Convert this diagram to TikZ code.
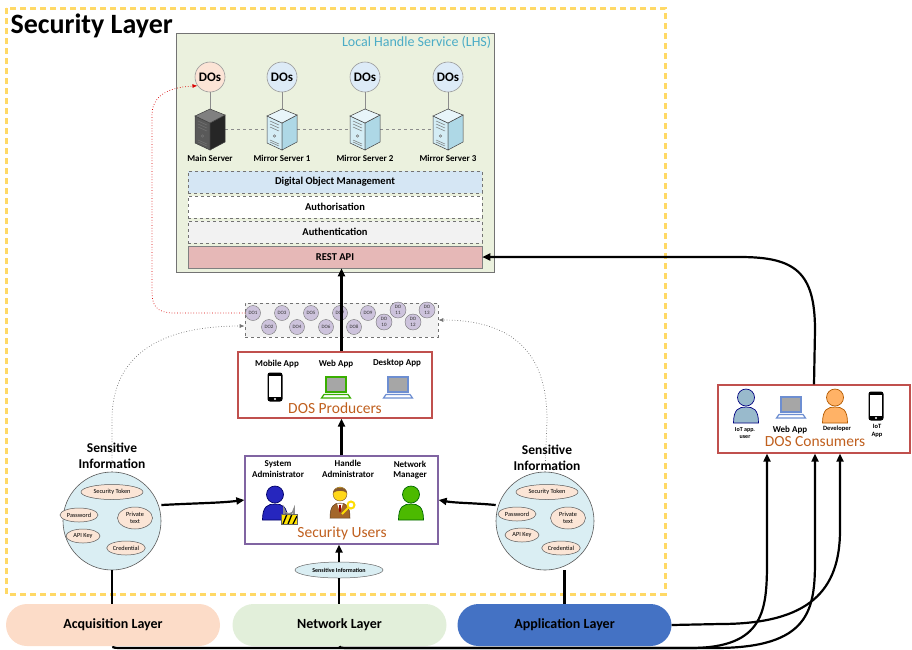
\documentclass[tikz,border=0pt]{standalone}
\usepackage{fontspec}
\setmainfont{Carlito}
\usetikzlibrary{arrows.meta,shapes.geometric,calc}

\definecolor{secyellow}{HTML}{FFD966}
\definecolor{lhsfill}{HTML}{EBF1DE}
\definecolor{lhstitle}{HTML}{4BACC6}
\definecolor{dosmain}{HTML}{FCE4D6}
\definecolor{dosmirror}{HTML}{DDEBF7}
\definecolor{domfill}{HTML}{D5E6F4}
\definecolor{authfill}{HTML}{F2F2F2}
\definecolor{restfill}{HTML}{E6B8B7}
\definecolor{dofill}{HTML}{CDC3DC}
\definecolor{stripfill}{HTML}{F2F2F2}
\definecolor{prodred}{HTML}{C0504D}
\definecolor{brownlabel}{HTML}{C0601F}
\definecolor{userpurple}{HTML}{8064A2}
\definecolor{sensfill}{HTML}{DAEEF3}
\definecolor{itemfill}{HTML}{FBE5D6}
\definecolor{acqfill}{HTML}{FCDCC8}
\definecolor{netfill}{HTML}{E2EFDA}
\definecolor{appfill}{HTML}{4472C4}
\definecolor{srvfront}{HTML}{D4EDF5}
\definecolor{srvside}{HTML}{AED8E6}
\definecolor{srvtop}{HTML}{E8F5FA}

\newcommand\fs[2]{\fontsize{#1}{#2}\selectfont}

\tikzset{
  dosnode/.style={circle, draw=black!40, line width=0.6pt, minimum size=30pt, inner sep=0pt, font=\fs{13}{15}\bfseries},
  srvlabel/.style={font=\fs{9}{10.5}\bfseries},
  layerbox/.style={draw=black!55, dashed, line width=0.5pt, minimum width=294pt, minimum height=22pt, inner sep=0pt, font=\fs{10.5}{12}\bfseries},
  docirc/.style={circle, draw=black!55, line width=0.4pt, fill=dofill, minimum size=15pt, inner sep=0pt, font=\fs{5}{5.5}, text=black!80, align=center},
  arr/.style={-{Triangle[length=8pt,width=7pt]}, line width=2.2pt},
  plainline/.style={line width=2.2pt},
  greydot/.style={dotted, draw=black!55, line width=0.7pt, -{Latex[length=5pt,width=4pt]}},
  reddot/.style={dotted, draw=red!85!black, line width=0.7pt, -{Latex[length=5pt,width=4pt]}},
  applabel/.style={font=\fs{9}{10.5}\bfseries, align=center},
  tinylabel/.style={font=\fs{6.5}{7.5}\bfseries, align=center},
  brown/.style={font=\fs{15.5}{17}, text=brownlabel},
  senscirc/.style={circle, draw=black!65, line width=0.6pt, fill=sensfill, minimum size=98pt, inner sep=0pt},
  sensitem/.style={ellipse, draw=black!65, line width=0.5pt, fill=itemfill, inner sep=0.5pt, font=\fs{6.3}{6.8}, align=center},
  senslabel/.style={font=\fs{13.5}{15.5}\bfseries, align=center},
  layerpill/.style={rounded corners=21pt, minimum width=214pt, minimum height=42pt, inner sep=0pt, font=\fs{14}{16}\bfseries},
  pics/server/.style n args={3}{code={
    \filldraw[fill=#1,draw=black!75,line width=0.5pt] (-15,-13) -- (0,-6) -- (0,21) -- (-15,14) -- cycle;
    \filldraw[fill=#2,draw=black!75,line width=0.5pt] (0,-6) -- (15,-14) -- (15,13) -- (0,21) -- cycle;
    \filldraw[fill=#3,draw=black!75,line width=0.5pt] (-15,-13) -- (0,-20) -- (15,-14) -- (0,-6) -- cycle;
    \draw[black!55,line width=0.5pt] (-12,-8) -- (-3,-4) (-12,-5) -- (-3,-1) (-12,-2) -- (-3,2);
    \draw[black!55,line width=0.5pt] (-7.5,7) circle[radius=1.3];
    \draw[black!55,line width=0.5pt] (-12,11) -- (-3,15) (-12,13) -- (-3,17);
  }},
  pics/laptop/.style={code={
    \filldraw[fill=black!35, draw=#1, line width=1.6pt] (-10,-9) rectangle (10,6);
    \filldraw[fill=white, draw=#1, line width=1.2pt] (-12,8.5) -- (12,8.5) -- (14.5,12) -- (-14.5,12) -- cycle;
  }},
  pics/phone/.style={code={
    \fill[black, rounded corners=2.5pt] (-7.5,-14.5) rectangle (7.5,14.5);
    \fill[white] (-6,-11.5) rectangle (6,9.5);
    \fill[white] (0,12) circle[radius=1.2];
  }},
  pics/person/.style 2 args={code={
    \filldraw[fill=#1, draw=#2, line width=0.7pt] (-12.5,17) .. controls (-12.5,3) and (-7,1) .. (0,1) .. controls (7,1) and (12.5,3) .. (12.5,17) -- cycle;
    \filldraw[fill=#1, draw=#2, line width=0.7pt] (0,-8.5) circle[radius=8.5];
  }},
}

\begin{document}
\begin{tikzpicture}[x=1pt, y=-1pt]
\useasboundingbox (0,0) rectangle (912,649);

% ---------- security layer frame ----------
\draw[secyellow, line width=3pt, dash pattern=on 6pt off 4pt] (6,8) rectangle (665,594);
\node[anchor=west, font=\fs{28}{32}\bfseries] (sectitle) at (7,26) {Security Layer};

% ---------- local handle service ----------
\node[draw=black!55, line width=0.8pt, fill=lhsfill, minimum width=318pt, minimum height=239pt, inner sep=0pt] (lhs) at (335,152.5) {};
\node[anchor=north east, font=\fs{14}{16}, text=lhstitle, inner sep=3pt] (lhstitle) at (lhs.north east) {Local Handle Service (LHS)};

% servers (invisible boxes carry the names)
\node[minimum width=30pt, minimum height=40pt, inner sep=0pt] (s0) at (210,129) {};
\node[minimum width=30pt, minimum height=40pt, inner sep=0pt] (s1) at (282,129) {};
\node[minimum width=30pt, minimum height=40pt, inner sep=0pt] (s2) at (365,129) {};
\node[minimum width=30pt, minimum height=40pt, inner sep=0pt] (s3) at (448,129) {};
\draw[black!45, dashed, line width=0.6pt] (s0) -- (s1) -- (s2) -- (s3);

\node[dosnode, fill=dosmain] (d0) at (210,77) {DOs};
\node[dosnode, fill=dosmirror] (d1) at (282,77) {DOs};
\node[dosnode, fill=dosmirror] (d2) at (365,77) {DOs};
\node[dosnode, fill=dosmirror] (d3) at (448,77) {DOs};
\foreach \i in {0,1,2,3} {\draw[black!45, line width=0.6pt] (d\i.south) -- (s\i.north);}

\pic at (s0) {server={black!65}{black!85}{black!50}};
\pic at (s1) {server={srvfront}{srvside}{srvtop}};
\pic at (s2) {server={srvfront}{srvside}{srvtop}};
\pic at (s3) {server={srvfront}{srvside}{srvtop}};

\node[srvlabel] (l0) at (210,158) {Main Server};
\node[srvlabel] (l1) at (282,158) {Mirror Server 1};
\node[srvlabel] (l2) at (365,158) {Mirror Server 2};
\node[srvlabel] (l3) at (448,158) {Mirror Server 3};

\node[layerbox, fill=domfill] (dom) at (335,182) {Digital Object Management};
\node[layerbox, fill=white] (authz) at (335,207) {Authorisation};
\node[layerbox, fill=authfill] (authn) at (335,232) {Authentication};
\node[layerbox, fill=restfill, solid, draw=black!50] (rest) at (335,257) {REST API};

% ---------- digital object strip ----------
\node[draw=black!55, dashed, line width=0.6pt, fill=stripfill, minimum width=193pt, minimum height=34pt, inner sep=0pt] (strip) at (341.5,320) {};
\node[docirc] (do1) at (253,313) {DO1};
\node[docirc] (do2) at (269,327) {DO2};
\node[docirc] (do3) at (282,313) {DO3};
\node[docirc] (do4) at (297,327) {DO4};
\node[docirc] (do5) at (311,313) {DO5};
\node[docirc] (do6) at (326,327) {DO6};
\node[docirc] (do7) at (340,313) {DO7};
\node[docirc] (do8) at (354,327) {DO8};
\node[docirc] (do9) at (368,313) {DO9};
\node[docirc, minimum size=16pt] (do10) at (384,322) {DO\\10};
\node[docirc, minimum size=16pt] (do11) at (398,310) {DO\\11};
\node[docirc, minimum size=16pt] (do12) at (413,322) {DO\\12};
\node[docirc, minimum size=16pt] (do13) at (427,310) {DO\\13};

% ---------- DOS producers ----------
\node[draw=prodred, line width=1.3pt, fill=white, minimum width=194pt, minimum height=66pt, inner sep=0pt] (prod) at (335,385) {};
\node[applabel] (pmob) at (277,364) {Mobile App};
\node[applabel] (pweb) at (336,364) {Web App};
\node[applabel] (pdesk) at (397,363) {Desktop App};
\pic at (275,387) {phone};
\pic at (336,386) {laptop={green!55!black!70!lime}};
\pic at (398,386) {laptop={cyan!40!blue!60}};
\node[brown] (prodtitle) at (335,408) {DOS Producers};

% ---------- security users ----------
\node[draw=userpurple, line width=1.3pt, fill=white, minimum width=193pt, minimum height=88pt, inner sep=0pt] (users) at (341.5,500) {};
\node[applabel] (usys) at (278,469) {System\\Administrator};
\node[applabel] (uhandle) at (348,469) {Handle\\Administrator};
\node[applabel] (unet) at (410,470) {Network\\Manager};
% system administrator with padlock
\pic at (275,503) {person={blue!70!black!85}{blue!40!black}};
\draw[black!45, line width=1.6pt] (284,514) -- (284,509) arc[start angle=180, end angle=0, radius=5] -- (294,514);
\fill[yellow!85!orange] (281,514) rectangle (297,524);
\draw[black, line width=1.3pt] (283,524) -- (287,514) (288,524) -- (292,514) (293,524) -- (297,516);
\draw[black!60, line width=0.4pt] (281,514) rectangle (297,524);
% handle administrator with key
\filldraw[fill=brown!80!orange!80!black, draw=brown!50!black, line width=0.5pt] (330,518) .. controls (330,506) and (334,503) .. (340,503) .. controls (346,503) and (350,506) .. (350,518) -- cycle;
\fill[white] (337,503.5) -- (343,503.5) -- (340,512) -- cycle;
\fill[red!60!black] (339.2,505) -- (340.8,505) -- (341,511) -- (340,512.5) -- (339,511) -- cycle;
\filldraw[fill=orange!35!yellow!90!white, draw=brown!60!black, line width=0.4pt] (340,494) circle[radius=7];
\fill[brown!70!black] (333,493) .. controls (333,486) and (347,486) .. (347,493) .. controls (344,490) and (336,490) .. (333,493);
\draw[yellow!80!orange, line width=2pt] (342,514) -- (349,507);
\draw[yellow!80!orange, line width=2pt] (351,505) circle[radius=3.5];
% network manager
\pic at (411,503) {person={green!55!black!60!lime}{green!40!black}};
\node[brown] (usertitle) at (342,533) {Security Users};

\node[ellipse, draw=black!60, line width=0.5pt, fill=sensfill, minimum width=88pt, minimum height=16pt, inner sep=0pt, font=\fs{6}{7}\bfseries] (sensmid) at (339,570) {Sensitive Information};

% ---------- sensitive information (left) ----------
\node[senscirc] (sensL) at (112,521) {};
\node[senslabel] (sensLlab) at (112,456) {Sensitive\\Information};
\node[sensitem, minimum width=62pt, minimum height=15pt] (lst) at (112,492) {Security Token};
\node[sensitem, minimum width=38pt, minimum height=14pt] (lpw) at (79,515) {Password};
\node[sensitem, minimum width=35pt, minimum height=22pt] (lpt) at (135,518) {Private\\text};
\node[sensitem, minimum width=34pt, minimum height=14pt] (lak) at (83,536) {API Key};
\node[sensitem, minimum width=38pt, minimum height=14pt] (lcr) at (126,548) {Credential};

% ---------- sensitive information (right) ----------
\node[senscirc] (sensR) at (545,521) {};
\node[senslabel] (sensRlab) at (547,458) {Sensitive\\Information};
\node[sensitem, minimum width=62pt, minimum height=15pt] (rst) at (547,492) {Security Token};
\node[sensitem, minimum width=38pt, minimum height=14pt] (rpw) at (517,514) {Password};
\node[sensitem, minimum width=35pt, minimum height=22pt] (rpt) at (568,518) {Private\\text};
\node[sensitem, minimum width=34pt, minimum height=14pt] (rak) at (522,535) {API Key};
\node[sensitem, minimum width=38pt, minimum height=14pt] (rcr) at (561,548) {Credential};

% ---------- DOS consumers ----------
\node[draw=prodred, line width=1.3pt, fill=white, minimum width=192pt, minimum height=68pt, inner sep=0pt] (cons) at (814,419) {};
\pic at (746,406) {person={blue!35!cyan!25!white!80!black}{blue!50!black}};
\pic at (791,406) {laptop={cyan!40!blue!60}};
\pic at (835,406) {person={orange!60!white}{orange!70!black}};
\pic at (876,406) {phone};
\node[tinylabel, font=\fs{6}{7}\bfseries] (cioa) at (745,433) {IoT app.\\user};
\node[applabel] (cweb) at (790,430) {Web App};
\node[tinylabel, font=\fs{6.5}{7.5}\bfseries] (cdev) at (837,429) {Developer};
\node[tinylabel] (ciot) at (877,431) {IoT\\App};
\node[brown] (constitle) at (815,442) {DOS Consumers};

% ---------- bottom layers ----------
\node[layerpill, fill=acqfill] (acq) at (113,625) {Acquisition Layer};
\node[layerpill, fill=netfill] (net) at (339.5,625) {Network Layer};
\node[layerpill, fill=appfill] (app) at (564.5,625) {Application Layer};

% ---------- connectors ----------
\draw[arr] (prod.north -| users.north) -- (rest.south -| users.north);
\draw[arr] (users.north) -- (users.north |- prod.south);
\draw[arr] (sensmid.north) -- (sensmid.north |- users.south);
\draw[plainline] (net.north -| sensmid.south) -- (sensmid.south);
\draw[plainline] (acq.north -| sensL.south) -- (sensL.south);
\draw[plainline] (app.north) -- (app.north |- sensR.south);
\draw[arr] (sensL.east) ++(0,-16) coordinate (lout) (lout) .. controls (200,503) and (220,503) .. (users.west);
\draw[arr] (sensR.west) ++(0,-16) coordinate (rout) (rout) .. controls (475,503) and (455,503) .. (users.east);

\draw[arr] (cons.north) -- (815,330) .. controls (815,272) and (795,257) .. (740,257) -- (rest.east);

\draw[arr] (acq.south) .. controls (113,648) .. (130,648) -- (690,648) .. controls (765,648) and (767,610) .. (767,560) -- (cons.south -| 767,0);
\draw[arr] (net.south) .. controls (340,648) .. (357,648) -- (715,648) .. controls (810,648) and (815,610) .. (815,560) -- (cons.south -| 815,0);
\draw[arr] (app.east) -- (720,624) .. controls (810,624) and (840,590) .. (840,530) -- (cons.south -| 840,0);

\draw[greydot] (sensL.north) -- (112,420) .. controls (112,355) and (160,326) .. (strip.west |- 0,326);
\draw[greydot] (sensR.north) -- (547,420) .. controls (547,350) and (510,320) .. (strip.east |- 0,320);
\draw[reddot] (do1.west) -- (175,313) .. controls (155,313) and (152,305) .. (152,290) -- (152,115) .. controls (152,92) and (175,87) .. (d0.215);

\end{tikzpicture}
\end{document}
